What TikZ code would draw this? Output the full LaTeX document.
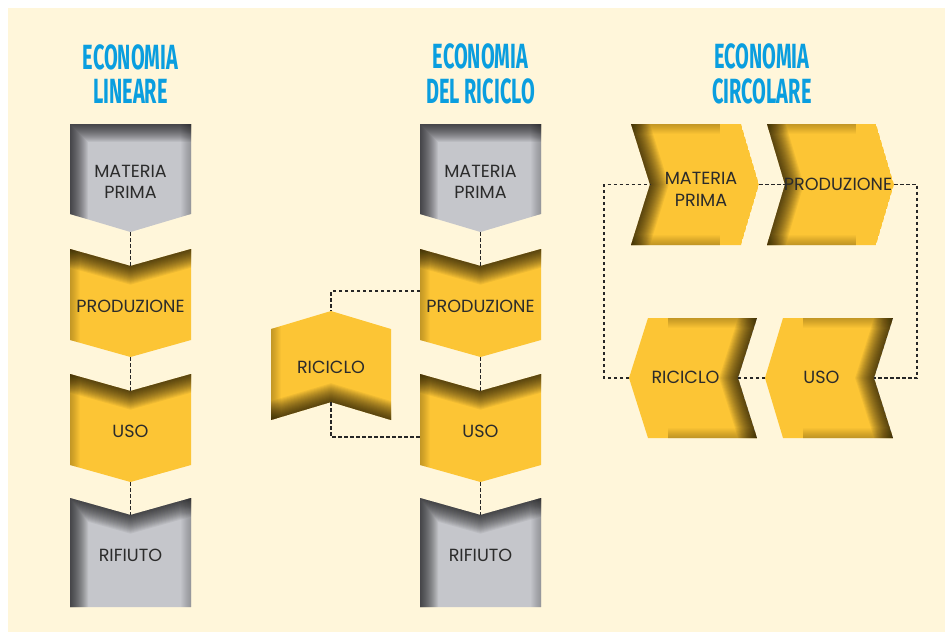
\documentclass[tikz,border=0pt]{standalone}
\usepackage{fontspec}
\setmainfont{Poppins}
\newfontfamily\titlefont[FakeStretch=0.57]{Fira Sans}
\usetikzlibrary{calc,positioning}

\definecolor{bgcream}{HTML}{FFF6DA}
\definecolor{chevyellow}{HTML}{FCC535}
\definecolor{chevgray}{HTML}{C5C6CB}
\definecolor{titleblue}{HTML}{0A9EDF}
\definecolor{textdark}{HTML}{2B2B2B}

\tikzset{
  headtext/.style={font=\titlefont\bfseries\fontsize{35}{34.5}\selectfont, text=titleblue, align=center},
  chevtext/.style={font=\fontsize{17.6}{21.5}\selectfont, text=textdark, align=center, inner sep=0pt},
  link/.style={draw=black!85, line width=1.2pt, dash pattern=on 3.5pt off 2.5pt}
}

% chevron with inner shadow: outline, colour, dark edge, soft edge
\newcommand{\chevshape}[4]{%
  \begin{scope}
    \clip #1;
    \fill[#2] #1;
    \foreach \w in {2,4,...,36}
      \draw[line width=\w pt, black, opacity=0.05] #3;
    \foreach \w in {2,4,...,20}
      \draw[line width=\w pt, black, opacity=0.025] #4;
  \end{scope}}

\begin{document}
\begin{tikzpicture}[x=1pt,y=-1pt]
  \useasboundingbox (0,0) rectangle (945,632);
  \fill[white] (0,0) rectangle (945,632);
  \fill[bgcream] (8,8) rectangle (945,632);

  % titles
  \node[headtext] (t-lin) at (130.5,74) {ECONOMIA\\LINEARE};
  \node[headtext] (t-ric) at (480.5,74) {ECONOMIA\\DEL RICICLO};
  \node[headtext] (t-cir) at (762,74) {ECONOMIA\\CIRCOLARE};

  % economia lineare
  \chevshape{(70,124) -- (191,124) -- (191,214) -- (130.5,232) -- (70,214) -- cycle}{chevgray}
    {(70,250) -- (70,124) -- (201,124)}{(191,110) -- (191,250)}
  \chevshape{(70,249) -- (130.5,266) -- (191,249) -- (191,340) -- (130.5,357) -- (70,340) -- cycle}{chevyellow}
    {(60,246.2) -- (130.5,266) -- (201,246.2)}{(70,240) -- (70,360)}
  \chevshape{(70,374) -- (130.5,391) -- (191,374) -- (191,465) -- (130.5,482) -- (70,465) -- cycle}{chevyellow}
    {(60,371.2) -- (130.5,391) -- (201,371.2)}{(70,365) -- (70,485)}
  \chevshape{(70,498) -- (130.5,515) -- (191,498) -- (191,607) -- (70,607) -- cycle}{chevgray}
    {(70,620) -- (70,498) -- (130.5,515) -- (201,495.2)}{(191,490) -- (191,620)}

  % economia del riciclo
  \chevshape{(420,124) -- (541,124) -- (541,214) -- (480.5,232) -- (420,214) -- cycle}{chevgray}
    {(420,250) -- (420,124) -- (551,124)}{(541,110) -- (541,250)}
  \chevshape{(420,249) -- (480.5,266) -- (541,249) -- (541,340) -- (480.5,357) -- (420,340) -- cycle}{chevyellow}
    {(410,246.2) -- (480.5,266) -- (551,246.2)}{(420,240) -- (420,360)}
  \chevshape{(420,374) -- (480.5,391) -- (541,374) -- (541,465) -- (480.5,482) -- (420,465) -- cycle}{chevyellow}
    {(410,371.2) -- (480.5,391) -- (551,371.2)}{(420,365) -- (420,485)}
  \chevshape{(420,498) -- (480.5,515) -- (541,498) -- (541,607) -- (420,607) -- cycle}{chevgray}
    {(420,620) -- (420,498) -- (480.5,515) -- (551,495.2)}{(541,490) -- (541,620)}
  \chevshape{(271,329) -- (331,311) -- (391,329) -- (391,420) -- (331,402) -- (271,420) -- cycle}{chevyellow}
    {(261,422.8) -- (331,402) -- (401,422.8)}{(271,300) -- (271,430)}

  % economia circolare
  \chevshape{(631,124) -- (741,124) -- (759,184.5) -- (741,245) -- (631,245) -- (650,184.5) -- cycle}{chevyellow}
    {(627.9,114) -- (650,184.5) -- (627.9,255)}{(620,124) -- (720,124) (620,245) -- (720,245)}
  \chevshape{(767,124) -- (876,124) -- (894,184.5) -- (876,245) -- (767,245) -- (785,184.5) -- cycle}{chevyellow}
    {(763.9,114) -- (785,184.5) -- (763.9,255)}{(756,124) -- (856,124) (756,245) -- (856,245)}
  \chevshape{(648,318) -- (757,318) -- (738,378) -- (757,438) -- (648,438) -- (629,378) -- cycle}{chevyellow}
    {(760.2,308) -- (738,378) -- (760.2,448)}{(668,318) -- (768,318) (668,438) -- (768,438)}
  \chevshape{(783,318) -- (893,318) -- (874,378) -- (893,438) -- (783,438) -- (765,378) -- cycle}{chevyellow}
    {(896.2,308) -- (874,378) -- (896.2,448)}{(803,318) -- (903,318) (803,438) -- (903,438)}

  % tips and notches
  \coordinate (mp1-s) at (130.5,232);
  \coordinate (pr1-n) at (130.5,266);
  \coordinate (pr1-s) at (130.5,357);
  \coordinate (us1-n) at (130.5,391);
  \coordinate (us1-s) at (130.5,482);
  \coordinate (rf1-n) at (130.5,515);
  \coordinate (mp2-s) at (480.5,232);
  \coordinate (pr2-n) at (480.5,266);
  \coordinate (pr2-s) at (480.5,357);
  \coordinate (us2-n) at (480.5,391);
  \coordinate (us2-s) at (480.5,482);
  \coordinate (rf2-n) at (480.5,515);
  \coordinate (pr2-w) at (420,291);
  \coordinate (us2-w) at (420,437);
  \coordinate (rc2-n) at (331,311);
  \coordinate (rc2-s) at (331,402);
  \coordinate (mp3-w) at (650,184.5);
  \coordinate (mp3-e) at (759,184.5);
  \coordinate (pr3-w) at (785,184.5);
  \coordinate (pr3-e) at (894,184.5);
  \coordinate (us3-e) at (874,378);
  \coordinate (us3-w) at (765,378);
  \coordinate (rc3-e) at (738,378);
  \coordinate (rc3-w) at (629,378);
  \coordinate (loop-ne) at (917,184.5);
  \coordinate (loop-sw) at (604,378);

  % dashed links
  \draw[link] (mp1-s) -- (pr1-n);
  \draw[link] (pr1-s) -- (us1-n);
  \draw[link] (us1-s) -- (rf1-n);
  \draw[link] (mp2-s) -- (pr2-n);
  \draw[link] (pr2-s) -- (us2-n);
  \draw[link] (us2-s) -- (rf2-n);
  \draw[link] (pr2-w) -| (rc2-n);
  \draw[link] (rc2-s) |- (us2-w);
  \draw[link] (mp3-e) -- (pr3-w);
  \draw[link] (pr3-e) -- (loop-ne) |- (us3-e);
  \draw[link] (us3-w) -- (rc3-e);
  \draw[link] (rc3-w) -- (loop-sw) |- (mp3-w);

  % labels
  \node[chevtext] (mp1) at (130.5,182) {MATERIA\\PRIMA};
  \node[chevtext] (pr1) at (130.5,306) {PRODUZIONE};
  \node[chevtext] (us1) at (130.5,431) {USO};
  \node[chevtext] (rf1) at (130.5,555) {RIFIUTO};
  \node[chevtext] (mp2) at (480.5,182) {MATERIA\\PRIMA};
  \node[chevtext] (pr2) at (480.5,306) {PRODUZIONE};
  \node[chevtext] (us2) at (480.5,431) {USO};
  \node[chevtext] (rf2) at (480.5,555) {RIFIUTO};
  \node[chevtext] (rc2) at (331,367) {RICICLO};
  \node[chevtext] (mp3) at (701,189.5) {MATERIA\\PRIMA};
  \node[chevtext] (pr3) at (838,184.5) {PRODUZIONE};
  \node[chevtext] (rc3) at (685.5,377.5) {RICICLO};
  \node[chevtext] (us3) at (821.5,377.5) {USO};
\end{tikzpicture}
\end{document}
